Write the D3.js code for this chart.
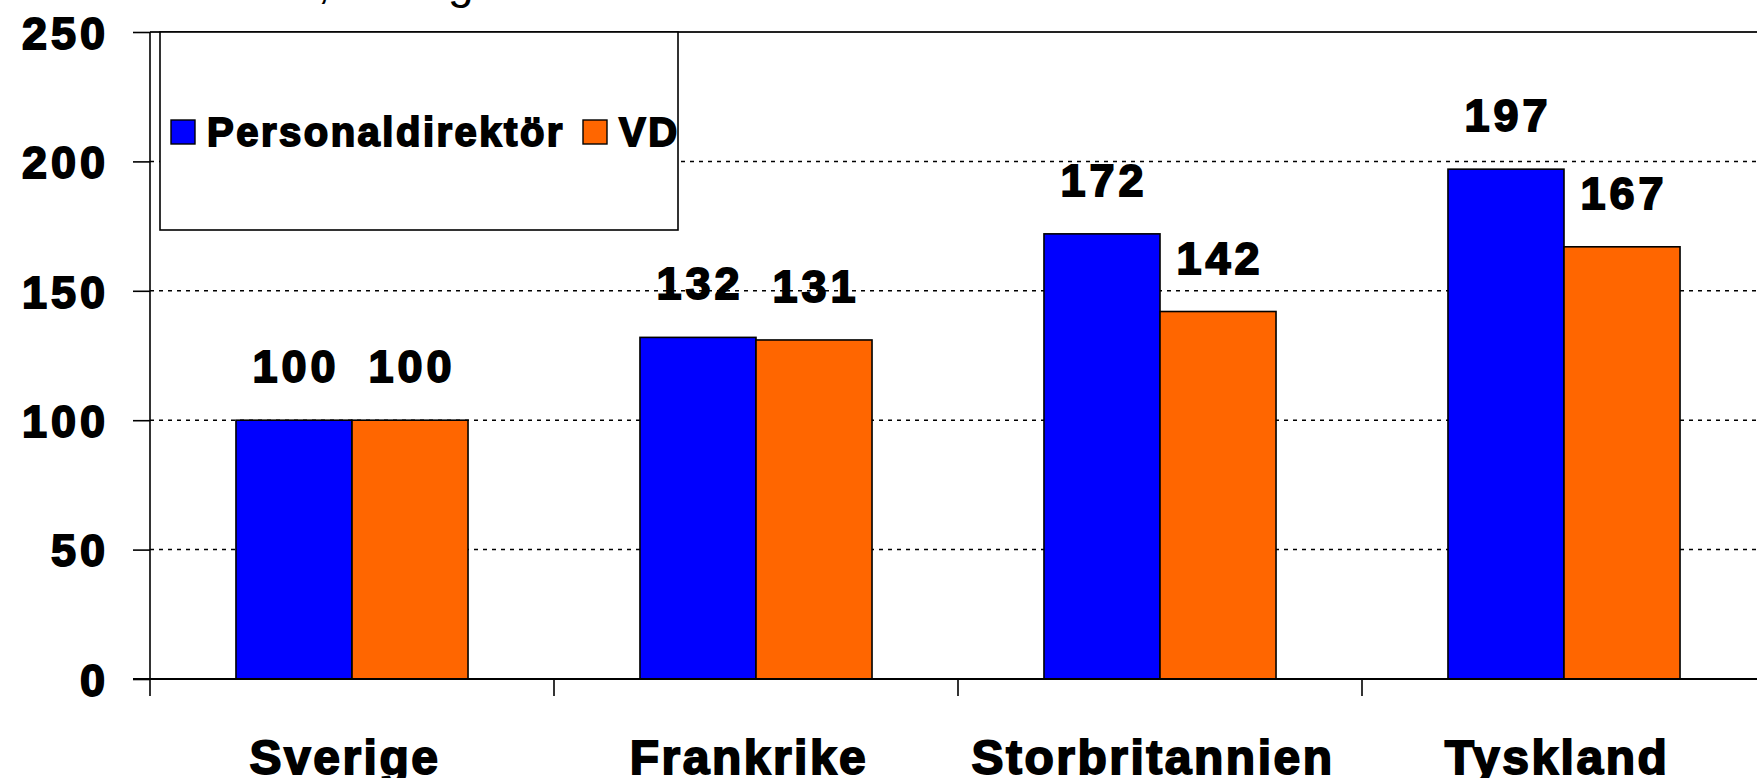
<!DOCTYPE html>
<html>
<head>
<meta charset="utf-8">
<script src="https://cdn.jsdelivr.net/npm/d3@7"></script>
<style>
  html, body { margin: 0; padding: 0; background: #fff; overflow: hidden; }
  .heavy { font-family: "Liberation Sans", Arial, sans-serif; font-weight: bold; fill: #000; stroke: #000; stroke-width: 1.8px; }
</style>
</head>
<body>
<svg id="chart"></svg>
<script>
// values (Sverige = 100)
const categories = ["Sverige", "Frankrike", "Storbritannien", "Tyskland"];
const seriesNames = ["Personaldirektör", "VD"];
const personaldirektor = [100, 132, 172, 197];
const vd = [100, 131, 142, 167];
const yTicks = [0, 50, 100, 150, 200, 250];
const titleText = "Index, Sverige = 100";

const colors = ["#0000ff", "#ff6600"];

const W = 1757, H = 778;
const margin = { left: 150, top: 32, bottom: 679 };
const step = 404;

const svg = d3.select("#chart").attr("width", W).attr("height", H);

// title sits mostly above the visible area, only descenders show
svg.append("text")
  .attr("x", 205)
  .attr("y", -2)
  .style("font-family", "Liberation Sans, Arial, sans-serif")
  .style("font-size", "46px")
  .text(titleText);

const x = d3.scaleBand()
  .domain(categories)
  .range([margin.left, margin.left + step * categories.length])
  .padding(0);

const xInner = d3.scaleBand()
  .domain(seriesNames)
  .range([0, x.bandwidth()])
  .paddingInner(0)
  .paddingOuter(0.741);

const y = d3.scaleLinear()
  .domain([0, 250])
  .range([margin.bottom, margin.top]);

const data = categories.map((c, i) => ({
  cat: c,
  values: [
    { key: seriesNames[0], value: personaldirektor[i] },
    { key: seriesNames[1], value: vd[i] }
  ]
}));

// gridlines (dotted), top one solid
svg.append("g")
  .selectAll("line")
  .data(yTicks.filter(d => d > 0))
  .join("line")
  .attr("x1", margin.left)
  .attr("x2", W)
  .attr("y1", d => y(d))
  .attr("y2", d => y(d))
  .attr("stroke", d => d === 250 ? "#222" : "#000")
  .attr("stroke-width", d => d === 250 ? 1.8 : 1.5)
  .attr("stroke-dasharray", d => d === 250 ? null : "4,5");

// y axis
const yAxis = d3.axisLeft(y).tickValues(yTicks).tickSize(17).tickPadding(24);
const yAxisG = svg.append("g")
  .attr("transform", `translate(${margin.left},0)`)
  .call(yAxis);
yAxisG.select(".domain").remove();
yAxisG.selectAll(".tick line").attr("stroke", "#000").attr("stroke-width", 1.6);
yAxisG.selectAll(".tick text")
  .attr("class", "heavy")
  .style("font-size", "45px")
  .style("letter-spacing", "4px")
  .attr("dy", "0.36em");

// legend box (covers the gridlines behind it)
const legend = svg.append("g");
legend.append("rect")
  .attr("x", 160).attr("y", 32)
  .attr("width", 518).attr("height", 198)
  .attr("fill", "#fff")
  .attr("stroke", "#000")
  .attr("stroke-width", 1.6);

const legendX = [171, 583];
const legendItems = legend.selectAll(".legend-item")
  .data(seriesNames)
  .join("g")
  .attr("class", "legend-item")
  .attr("transform", (d, i) => `translate(${legendX[i]},120)`);
legendItems.append("rect")
  .attr("width", 24).attr("height", 24)
  .attr("fill", (d, i) => colors[i])
  .attr("stroke", "#000")
  .attr("stroke-width", 1.4);
legendItems.append("text")
  .attr("class", "heavy")
  .attr("x", 36)
  .attr("y", 26)
  .style("font-size", "40px")
  .style("letter-spacing", "2.5px")
  .text(d => d);

// bars
const groups = svg.append("g")
  .selectAll("g")
  .data(data)
  .join("g")
  .attr("transform", d => `translate(${x(d.cat)},0)`);

groups.selectAll("rect")
  .data(d => d.values)
  .join("rect")
  .attr("x", d => xInner(d.key))
  .attr("y", d => y(d.value))
  .attr("width", xInner.bandwidth())
  .attr("height", d => y(0) - y(d.value))
  .attr("fill", (d, i) => colors[i])
  .attr("stroke", "#000")
  .attr("stroke-width", 1.6);

groups.selectAll(".value")
  .data(d => d.values)
  .join("text")
  .attr("class", "heavy value")
  .attr("x", d => xInner(d.key) + xInner.bandwidth() / 2 + 2)
  .attr("y", d => y(d.value) - 38)
  .attr("text-anchor", "middle")
  .style("font-size", "45px")
  .style("letter-spacing", "4px")
  .text(d => d.value);

// y axis line
svg.append("line")
  .attr("x1", margin.left).attr("x2", margin.left)
  .attr("y1", margin.top).attr("y2", y(0) + 17)
  .attr("stroke", "#000").attr("stroke-width", 1.6);

// x axis: category labels at band centres, ticks at band edges
const xAxis = d3.axisBottom(x).tickSize(0).tickPadding(60);
const xAxisG = svg.append("g")
  .attr("transform", `translate(0,${y(0)})`)
  .call(xAxis);
xAxisG.select(".domain").remove();
xAxisG.selectAll(".tick text")
  .attr("class", "heavy")
  .attr("x", -7)
  .attr("y", 95)
  .attr("dy", 0)
  .style("font-size", "48px")
  .style("letter-spacing", "2.5px");

svg.append("line")
  .attr("x1", margin.left - 17).attr("x2", W)
  .attr("y1", y(0)).attr("y2", y(0))
  .attr("stroke", "#000").attr("stroke-width", 2.2);

svg.append("g")
  .selectAll("line")
  .data(categories.slice(1).concat(["end"]))
  .join("line")
  .attr("x1", (d, i) => margin.left + step * (i + 1))
  .attr("x2", (d, i) => margin.left + step * (i + 1))
  .attr("y1", y(0))
  .attr("y2", y(0) + 17)
  .attr("stroke", "#000")
  .attr("stroke-width", 1.6);
</script>
</body>
</html>
